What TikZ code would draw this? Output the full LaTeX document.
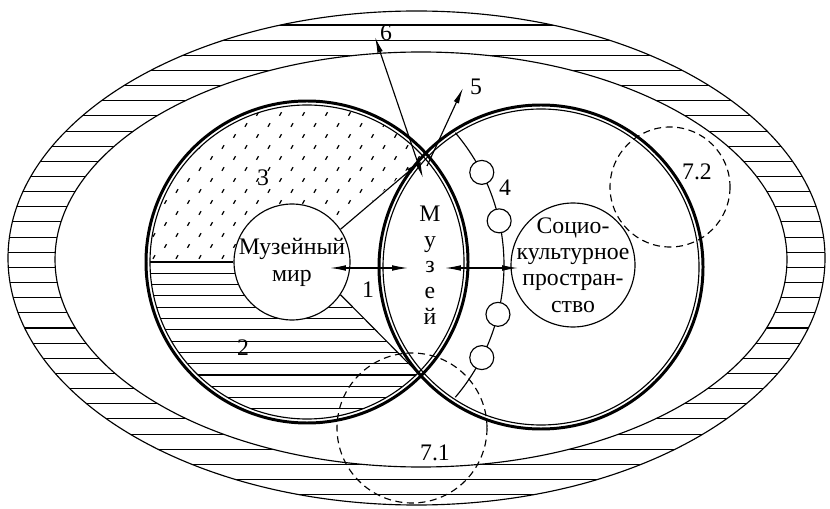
\documentclass[tikz,border=0pt]{standalone}
\usepackage{fontspec}
\setmainfont{Liberation Serif}
\usetikzlibrary{arrows.meta,positioning}
\tikzset{
  bigring/.style={
    line width=1.7pt
  },
  thinring/.style={
    line width=0.65pt
  },
  bubble/.style={
    shape=circle,
    draw,
    fill=white,
    line width=0.65pt,
    inner sep=0pt
  },
  bead/.style={
    shape=circle,
    draw,
    fill=white,
    line width=0.65pt,
    inner sep=0pt,
    minimum size=0.48cm
  },
  hatch/.style={
    line width=0.6pt
  },
  speck/.style={
    line width=0.7pt
  },
  zone/.style={
    dash pattern=on 4pt off 2.6pt,
    line width=0.65pt
  },
  lbl/.style={
    font=\rmfamily\fontsize{13.5}{15}\selectfont,
    inner sep=1pt
  },
  conn/.style={
    line width=0.65pt
  },
  twoway/.style={
    conn,
    {Latex[length=9pt,width=3.2pt]}-{Latex[length=9pt,width=3.2pt]}
  },
  oneway/.style={
    conn,
    -{Latex[length=9pt,width=3.2pt]}
  }
}
\begin{document}
\begin{tikzpicture}[x=0.02cm,y=-0.02cm]
        \useasboundingbox (0,0) rectangle (830,509);
        \def\Lx{307} \def\Ly{262}
        \def\Rx{541} \def\Ry{267}

        % outer ring
        \begin{scope}
          \clip (416.5,258) ellipse (408.5 and 247);
          \foreach \k in {0,...,31}
            \draw[hatch] (0,25+15.15*\k) -- (830,25+15.15*\k);
        \end{scope}
        \fill[white] (421,259.5) ellipse (366 and 207.5);
        \draw[thinring] (416.5,258) ellipse (408.5 and 247);
        \draw[thinring] (421,259.5) ellipse (366 and 207.5);

        % zone 3
        \begin{scope}
          \clip (\Lx,\Ly) circle[radius=157];
          \clip (140,262) -- (234,262) arc[start angle=180, end angle=326.3, radius=58]
            -- (426,153) -- (426,80) -- (140,80) -- cycle;
          \foreach \j in {-7,...,11}
            \foreach \i in {-10,...,14}
              \draw[speck] (200+11.5*\j+23*\i-1,147+11*\j+1.8) --++ (2,-3.6);
        \end{scope}

        % zone 2
        \begin{scope}
          \clip (\Lx,\Ly) circle[radius=157];
          \clip (140,262) -- (234,262) arc[start angle=180, end angle=34.5, radius=58]
            -- (421,376) -- (421,440) -- (140,440) -- cycle;
          \foreach \k in {1,...,15}
            \draw[hatch] (130,262+11.3*\k) -- (440,262+11.3*\k);
        \end{scope}

        \draw[bigring] (\Lx,\Ly) circle[radius=161];
        \draw[thinring] (\Lx,\Ly) circle[radius=157];
        \draw[bigring] (\Rx,\Ry) circle[radius=162];
        \draw[thinring] (\Rx,\Ry) circle[radius=158];

        \coordinate (top) at (426,153);
        \coordinate (bot) at (421,376);
        \coordinate (lw) at (150,262);

        % chain 4
        \draw[conn] (300,265) ++(-40.4:204) arc[start angle=-40.4, end angle=40.4, radius=204];
        \foreach \a [count=\i] in {-27,-12.5,14,27}
          \path (300,265) ++(\a:204) node[bead] (b\i) {};

        \node[bubble, minimum size=2.32cm] (mir) at (292,262) {};
        \node[bubble, minimum size=2.48cm] (soc) at (573,265) {};
        \node[lbl, align=center] at (mir.center) {Музейный\\[0.4pt]мир};
        \node[lbl, align=center] at (soc.center) {Социо-\\культурное\\простран-\\ство};
        \node[lbl, align=center, font=\rmfamily\fontsize{13.5}{14.6}\selectfont] (muz) at (430,265) {М\\у\\з\\е\\й};

        \draw[conn] (lw) -- (mir.west);
        \draw[oneway] (mir.34) -- (421,161);
        \draw[conn] (mir.-34) -- (bot);

        \coordinate (a1l) at (330,268);
        \coordinate (a1r) at (408,268);
        \coordinate (a2l) at (445,268);
        \coordinate (a2r) at (518,268);
        \draw[twoway] (a1l) -- (a1r);
        \draw[twoway] (a2l) -- (a2r);

        \coordinate (c6a) at (423,178);
        \coordinate (c6b) at (375,37);
        \coordinate (c5a) at (427,166);
        \coordinate (c5b) at (463,88);
        \draw[twoway] (c6a) -- (c6b);
        \draw[oneway] (c5a) -- (c5b);

        \draw[zone] (412,428) circle[radius=75];
        \draw[zone] (670,187) circle[radius=60];

        \node[lbl] at (386,33) {6};
        \node[lbl] at (476,87) {5};
        \node[lbl] at (263,178) {3};
        \node[lbl] at (243,348) {2};
        \node[lbl] at (368,290) {1};
        \node[lbl] at (505,188) {4};
        \node[lbl] at (435,453) {7.1};
        \node[lbl] at (697,172) {7.2};
\end{tikzpicture}
\end{document}
